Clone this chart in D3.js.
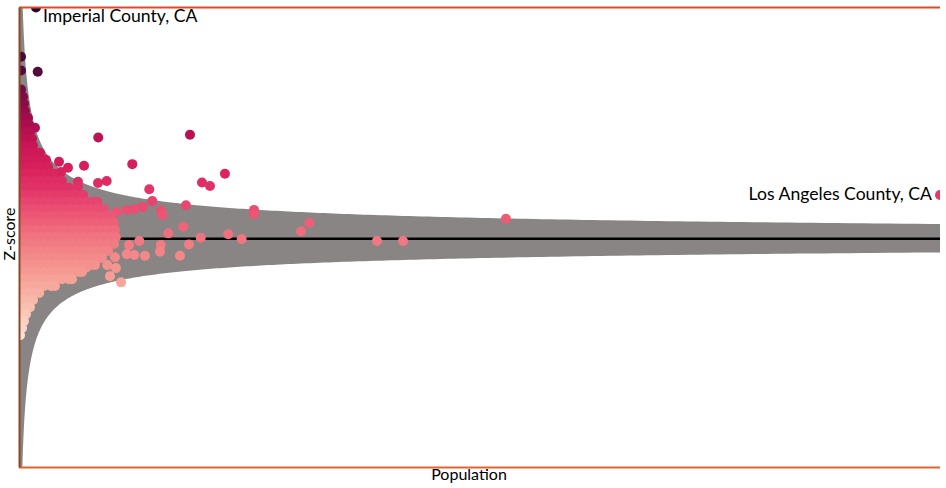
<!DOCTYPE html>
<html>
<head>
<meta charset="utf-8">
<script src="https://cdn.jsdelivr.net/npm/d3@7"></script>
<style>
  html, body { margin: 0; padding: 0; background: #fff; }
  svg { display: block; }
  text { font-family: Lato, "Liberation Sans", sans-serif; fill: #000; }
</style>
</head>
<body>
<svg id="chart" width="946" height="488"></svg>
<script>
// ---------------- data ----------------
// population in thousands, z-score
const popMaxK = 10040;          // Los Angeles County
const zDomain = [-10, 10];
const meanZ = -0.05;            // centre line
const funnelUpperK = 64;        // upper control-limit constant (z * sqrt(pop in thousands))
const funnelLowerK = 60;        // lower control-limit constant

const labelled = [
  { name: "Imperial County, CA", popK: 185, z: 10.0, side: "below" },
  { name: "Los Angeles County, CA", popK: 10040, z: 1.85, side: "left" }
];

const counties = [
  // dark high-z counties near the left edge
  [22, 7.86], [22, 7.26], [204, 7.21], [22, 6.43],
  [174, 4.77], [864, 4.35], [1864, 4.47],
  [1235, 3.19], [436, 3.29], [534, 3.03], [709, 3.12], [458, 2.85],
  [643, 2.42], [643, 2.20], [861, 2.37], [956, 2.46],
  [2245, 2.77], [1995, 2.39], [2082, 2.24], [1420, 2.10], [1453, 1.59], [1820, 1.40],
  [1068, 1.11], [1177, 1.20], [1264, 1.24], [1352, 1.33], [1548, 1.17], [1566, 0.98],
  [2562, 1.20], [2562, 1.01], [3164, 0.64], [3074, 0.27], [5308, 0.81],
  [1791, 0.47], [1627, 0.18], [1981, -0.01], [2281, 0.14], [2427, -0.07],
  [3902, -0.15], [4186, -0.15],
  [1853, -0.30], [1545, -0.33], [1537, -0.62], [1311, -0.15], [1199, -0.33],
  [1755, -0.79], [1373, -0.79], [1257, -0.76], [1174, -0.73], [1046, -0.86],
  [962, -1.20], [1057, -1.33], [738, -1.29], [992, -1.68], [1112, -1.95],
  [1017, -0.23], [1028, 0.37], [927, 1.07],
  // dense mass of small counties
  [11, 6.12], [44, 6.12],
  [11, 5.82], [54, 5.82],
  [11, 5.51], [65, 5.51],
  [11, 5.21], [54, 5.21], [98, 5.21],
  [11, 4.90], [65, 4.90], [109, 4.90],
  [11, 4.60], [65, 4.60], [120, 4.60],
  [11, 4.29], [76, 4.29], [142, 4.29],
  [11, 3.99], [76, 3.99], [153, 3.99],
  [11, 3.68], [87, 3.68], [164, 3.68], [229, 3.68],
  [44, 3.38], [120, 3.38], [196, 3.38], [294, 3.38],
  [11, 3.07], [87, 3.07], [164, 3.07], [240, 3.07], [316, 3.07],
  [44, 2.77], [120, 2.77], [196, 2.77], [272, 2.77], [349, 2.77], [392, 2.77],
  [11, 2.46], [87, 2.46], [164, 2.46], [240, 2.46], [316, 2.46], [392, 2.46], [469, 2.46],
  [44, 2.16], [120, 2.16], [196, 2.16], [272, 2.16], [349, 2.16], [425, 2.16], [501, 2.16], [545, 2.16],
  [11, 1.85], [87, 1.85], [164, 1.85], [240, 1.85], [316, 1.85], [392, 1.85], [469, 1.85], [545, 1.85], [621, 1.85], [698, 1.85],
  [44, 1.55], [120, 1.55], [196, 1.55], [272, 1.55], [349, 1.55], [425, 1.55], [501, 1.55], [578, 1.55], [654, 1.55], [730, 1.55], [807, 1.55], [850, 1.55],
  [11, 1.24], [87, 1.24], [164, 1.24], [240, 1.24], [316, 1.24], [392, 1.24], [469, 1.24], [545, 1.24], [621, 1.24], [698, 1.24], [774, 1.24], [850, 1.24], [927, 1.24],
  [44, 0.94], [120, 0.94], [196, 0.94], [272, 0.94], [349, 0.94], [425, 0.94], [501, 0.94], [578, 0.94], [654, 0.94], [730, 0.94], [807, 0.94], [883, 0.94], [959, 0.94], [1003, 0.94],
  [11, 0.63], [87, 0.63], [164, 0.63], [240, 0.63], [316, 0.63], [392, 0.63], [469, 0.63], [545, 0.63], [621, 0.63], [698, 0.63], [774, 0.63], [850, 0.63], [927, 0.63], [1003, 0.63], [1036, 0.63],
  [44, 0.33], [120, 0.33], [196, 0.33], [272, 0.33], [349, 0.33], [425, 0.33], [501, 0.33], [578, 0.33], [654, 0.33], [730, 0.33], [807, 0.33], [883, 0.33], [959, 0.33], [1046, 0.33],
  [11, 0.02], [87, 0.02], [164, 0.02], [240, 0.02], [316, 0.02], [392, 0.02], [469, 0.02], [545, 0.02], [621, 0.02], [698, 0.02], [774, 0.02], [850, 0.02], [927, 0.02], [1003, 0.02], [1057, 0.02],
  [44, -0.28], [120, -0.28], [196, -0.28], [272, -0.28], [349, -0.28], [425, -0.28], [501, -0.28], [578, -0.28], [654, -0.28], [730, -0.28], [807, -0.28], [883, -0.28], [959, -0.28], [1036, -0.28],
  [11, -0.59], [87, -0.59], [164, -0.59], [240, -0.59], [316, -0.59], [392, -0.59], [469, -0.59], [545, -0.59], [621, -0.59], [698, -0.59], [774, -0.59], [850, -0.59], [927, -0.59], [970, -0.59],
  [44, -0.89], [120, -0.89], [196, -0.89], [272, -0.89], [349, -0.89], [425, -0.89], [501, -0.89], [578, -0.89], [654, -0.89], [730, -0.89], [807, -0.89], [883, -0.89], [905, -0.89],
  [11, -1.20], [87, -1.20], [164, -1.20], [240, -1.20], [316, -1.20], [392, -1.20], [469, -1.20], [545, -1.20], [621, -1.20], [698, -1.20], [774, -1.20], [828, -1.20],
  [44, -1.50], [120, -1.50], [196, -1.50], [272, -1.50], [349, -1.50], [425, -1.50], [501, -1.50], [578, -1.50], [654, -1.50], [687, -1.50],
  [11, -1.81], [87, -1.81], [164, -1.81], [240, -1.81], [316, -1.81], [392, -1.81], [469, -1.81], [545, -1.81], [578, -1.81],
  [44, -2.11], [120, -2.11], [196, -2.11], [272, -2.11], [349, -2.11], [392, -2.11],
  [11, -2.41], [87, -2.41], [164, -2.41], [220, -2.41],
  [44, -2.72], [120, -2.72], [153, -2.72],
  [11, -3.03], [87, -3.03], [120, -3.03],
  [44, -3.33], [76, -3.33],
  [11, -3.64], [54, -3.64],
  [11, -3.94], [33, -3.94],
  [11, -4.25]
];

// colour ramp stops (z -> colour)
const colorStops = [-4.3, -3, -1.5, 0, 1, 2, 3, 4, 5, 6, 7.3, 10];
const colorRange = ["#fde0d4", "#f9bfae", "#f59a92", "#f07480", "#ec5574", "#e3366a",
                    "#d8205c", "#c81555", "#a80c4e", "#820b47", "#520a3c", "#1f0a2e"];

// ---------------- chart ----------------
const W = 946, H = 488;
const plot = { left: 19, right: 940, top: 7.5, bottom: 467.5 };

const svg = d3.select("#chart");
const x = d3.scaleLinear().domain([0, popMaxK]).range([plot.left, plot.right]);
const y = d3.scaleLinear().domain(zDomain).range([plot.bottom, plot.top]);
const color = d3.scaleLinear().domain(colorStops).range(colorRange).clamp(true);

svg.append("defs").append("clipPath").attr("id", "clip")
  .append("rect")
  .attr("x", plot.left).attr("y", plot.top)
  .attr("width", plot.right - plot.left).attr("height", plot.bottom - plot.top);

const g = svg.append("g").attr("clip-path", "url(#clip)");

// funnel band (control limits sampled along population)
const samples = d3.range(0, 600).map(i => Math.pow(popMaxK * 1.02, i / 599));
const area = d3.area()
  .x(p => x(p))
  .y0(p => y(meanZ - funnelLowerK / Math.sqrt(p)))
  .y1(p => y(meanZ + funnelUpperK / Math.sqrt(p)));
g.append("path").datum(samples).attr("d", area).attr("fill", "#888584");

// centre line
g.append("line")
  .attr("x1", x(0)).attr("x2", x(popMaxK))
  .attr("y1", y(meanZ)).attr("y2", y(meanZ))
  .attr("stroke", "#000").attr("stroke-width", 2.5);

// points
g.selectAll("circle.c").data(counties).join("circle")
  .attr("class", "c")
  .attr("cx", d => x(d[0])).attr("cy", d => y(d[1]))
  .attr("r", 5)
  .attr("fill", d => color(d[1]));

g.selectAll("circle.l").data(labelled).join("circle")
  .attr("class", "l")
  .attr("cx", d => x(d.popK)).attr("cy", d => y(d.z))
  .attr("r", 5)
  .attr("fill", d => color(d.z));

// labels
svg.selectAll("text.lab").data(labelled).join("text")
  .attr("class", "lab")
  .attr("x", d => d.side === "left" ? x(d.popK) - 8 : x(d.popK) + 7)
  .attr("y", d => d.side === "left" ? y(d.z) + 5 : y(d.z) + 14)
  .attr("text-anchor", d => d.side === "left" ? "end" : "start")
  .style("font-size", "17.6px")
  .text(d => d.name);

// axis frame lines
svg.append("line").attr("x1", plot.left).attr("x2", plot.right)
  .attr("y1", plot.top).attr("y2", plot.top)
  .attr("stroke", "#e8481c").attr("stroke-width", 2);
svg.append("line").attr("x1", plot.left).attr("x2", plot.right)
  .attr("y1", plot.bottom).attr("y2", plot.bottom)
  .attr("stroke", "#e8602a").attr("stroke-width", 2);
svg.append("line").attr("x1", plot.left + 0.5).attr("x2", plot.left + 0.5)
  .attr("y1", plot.top).attr("y2", plot.bottom)
  .attr("stroke", "#8a4a2a").attr("stroke-width", 2);

// axis titles
svg.append("text").attr("x", 469).attr("y", 480)
  .attr("text-anchor", "middle").style("font-size", "16px").text("Population");
svg.append("text").attr("transform", "translate(15,234) rotate(-90)")
  .attr("text-anchor", "middle").style("font-size", "16px").text("Z-score");
</script>
</body>
</html>
